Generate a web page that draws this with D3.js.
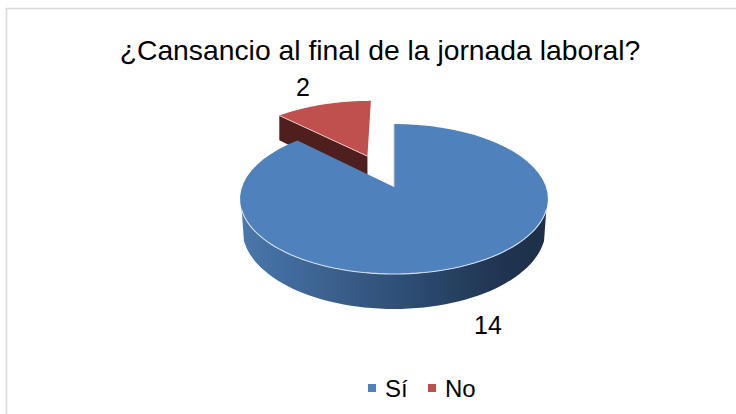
<!DOCTYPE html>
<html><head><meta charset="utf-8">
<script src="https://cdn.jsdelivr.net/npm/d3@7"></script>
<style>html,body{margin:0;padding:0;background:#fff}svg{display:block}text{font-family:"Liberation Sans",Arial,sans-serif;fill:#000}</style>
</head><body><svg id="c" width="736" height="414"></svg>
<script>
const categories = ["Sí", "No"];
const values = [14, 2];
const colors = ["#4f81bd", "#c0504d"];
const title = "¿Cansancio al final de la jornada laboral?";

const svg = d3.select("#c");
const cx = 394, cy = 187, A = 152, a = -43.16, k = 0.16, depth = 29.4, explode = 0.49;

// perspective projection of the unit pie disc on the page
const proj = (u, v, drop = 0) => {
  const w = 1 + k * v;
  return [cx + A * u / w, (a * v + (cy + drop)) / w];
};
const rim = (t, o = [0, 0], drop = 0) => proj(o[0] + Math.sin(t), o[1] + Math.cos(t), drop);
const line = d3.line();
const sweep = (t0, t1, o, drop) => d3.range(0, 61).map(i => rim(t0 + (t1 - t0) * i / 60, o, drop));

const arcs = d3.pie().sort(null)(values);
const offsets = arcs.map((d, i) => {
  if (i === 0) return [0, 0];
  const m = (d.startAngle + d.endAngle) / 2;
  return [explode * Math.sin(m), explode * Math.cos(m)];
});

const defs = svg.append("defs");
const grad = defs.append("linearGradient").attr("id", "sideBlue")
  .attr("gradientUnits", "userSpaceOnUse")
  .attr("x1", cx - 153).attr("x2", cx + 155).attr("y1", 0).attr("y2", 0);
[[0, "#4a77ad"], [0.5, "#2f5077"], [0.85, "#1f3450"], [1, "#1d2f48"]]
  .forEach(s => grad.append("stop").attr("offset", s[0]).attr("stop-color", s[1]));

// chart frame
svg.append("path").attr("d", "M736,8.5H6.5V414").attr("fill", "none").attr("stroke", "#d9d9d9").attr("stroke-width", 1.6);

svg.append("text").attr("x", 380).attr("y", 60).attr("text-anchor", "middle")
  .attr("font-size", 28.3).text(title);

// red wedge: cut face, top
const red = arcs[1], ro = offsets[1];
const apexR = proj(ro[0], ro[1]), apexRB = proj(ro[0], ro[1], depth);
const leftR = rim(red.startAngle, ro), leftRB = rim(red.startAngle, ro, depth);
svg.append("path").attr("d", line([apexR, leftR, leftRB, apexRB]) + "Z").attr("fill", "#4f1f1d");
svg.append("path").attr("d", line([apexR, ...sweep(red.startAngle, red.endAngle, ro)]) + "Z")
  .attr("fill", colors[1]);
svg.append("path").attr("d", line([leftR, apexR]))
  .attr("fill", "none").attr("stroke", "#e3c9c8").attr("stroke-width", 1);

// blue wedge: outer wall, top, highlights
const blue = arcs[0], bo = offsets[0];
const tR = Math.acos(-0.3), tL = 2 * Math.PI - tR;
const narrow = p => [cx + (p[0] - cx) * 0.985, p[1]];
const front = sweep(tR, tL, bo, 0), frontB = sweep(tL, tR, bo, depth).map(narrow);
svg.append("path").attr("d", line([...front, ...frontB]) + "Z").attr("fill", "url(#sideBlue)");
svg.append("path").attr("d", line([proj(0, 0), ...sweep(blue.startAngle, blue.endAngle, bo)]) + "Z")
  .attr("fill", colors[0]);
svg.append("path").attr("d", line(front))
  .attr("fill", "none").attr("stroke", "#d5e0ee").attr("stroke-width", 1.1);
svg.append("path").attr("d", line([rim(blue.startAngle), proj(0, 0)]))
  .attr("fill", "none").attr("stroke", "#c3cdd9").attr("stroke-width", 1);

// data labels
const labelPos = [[303, 87], [488, 325]];
svg.selectAll("text.dl").data([values[1], values[0]]).join("text").attr("class", "dl")
  .attr("x", (d, i) => labelPos[i][0]).attr("y", (d, i) => labelPos[i][1] + 9)
  .attr("text-anchor", "middle").attr("font-size", 25).text(d => d);

// legend
const legX = [368, 428];
const leg = svg.selectAll("g.leg").data(categories).join("g").attr("class", "leg")
  .attr("transform", (d, i) => `translate(${legX[i]},384)`);
leg.append("rect").attr("width", 8).attr("height", 8).attr("fill", (d, i) => colors[i]);
leg.append("text").attr("x", 17).attr("y", 13).attr("font-size", 24).text(d => d);
</script></body></html>
